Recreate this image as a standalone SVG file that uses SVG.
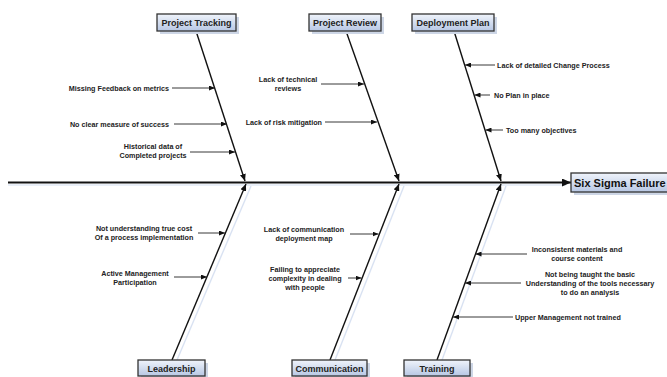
<svg xmlns="http://www.w3.org/2000/svg" width="667" height="377" viewBox="0 0 667 377">
<style>
.box{fill:url(#g);stroke:#333;stroke-width:1.3}
.sh{fill:#cdd6e6}
.bt{font-family:"Liberation Sans",Arial,sans-serif;font-weight:bold;font-size:9px;fill:#222;text-anchor:middle}
.ct{font-family:"Liberation Sans",Arial,sans-serif;font-weight:bold;font-size:7.2px;fill:#222}
.m{text-anchor:middle}.e{text-anchor:end}
.bone{stroke:#111;stroke-width:1.4;fill:none;marker-end:url(#ab)}
.cause{stroke:#222;stroke-width:0.9;fill:none;marker-end:url(#ac)}
.bsh{stroke:#d9e2f2;stroke-width:1.4;fill:none}
</style>
<defs>
<linearGradient id="g" x1="0" y1="0" x2="0" y2="1">
<stop offset="0" stop-color="#f0f4fb"/>
<stop offset="1" stop-color="#b7c7e4"/>
</linearGradient>
<marker id="ac" markerUnits="userSpaceOnUse" markerWidth="6" markerHeight="5" refX="6" refY="2.5" orient="auto">
<path d="M0,0 L6,2.5 L0,5 z" fill="#111"/>
</marker>
<marker id="ab" markerUnits="userSpaceOnUse" markerWidth="7" markerHeight="6" refX="7" refY="3" orient="auto">
<path d="M0,0 L7,3 L0,6 z" fill="#111"/>
</marker>
<marker id="as" markerUnits="userSpaceOnUse" markerWidth="9" markerHeight="8" refX="9" refY="4" orient="auto">
<path d="M0,0 L9,4 L0,8 z" fill="#111"/>
</marker>
</defs>
<rect width="667" height="377" fill="#fff"/>

<g id="connectors">
<line x1="8" y1="185" x2="566" y2="185" stroke="#e2eaf6" stroke-width="1.5"/>
<line x1="8" y1="182.5" x2="571" y2="182.5" stroke="#111" stroke-width="2" marker-end="url(#as)"/>
<line class="bsh" x1="177" y1="360" x2="251" y2="186"/>
<line class="bsh" x1="335" y1="360" x2="404" y2="186"/>
<line class="bsh" x1="442" y1="360" x2="506" y2="186"/>
<line class="bone" x1="196" y1="31" x2="245" y2="181"/>
<line class="bone" x1="346" y1="31" x2="399" y2="181"/>
<line class="bone" x1="454" y1="31" x2="501" y2="181"/>
<line class="bone" x1="172" y1="360" x2="246" y2="184"/>
<line class="bone" x1="330" y1="360" x2="399" y2="184"/>
<line class="bone" x1="437" y1="360" x2="501" y2="184"/>
<line class="cause" x1="172" y1="88" x2="215" y2="88"/>
<line class="cause" x1="174" y1="124" x2="227" y2="124"/>
<line class="cause" x1="190" y1="152" x2="235" y2="152"/>
<line class="cause" x1="321" y1="84" x2="364" y2="84"/>
<line class="cause" x1="325" y1="122" x2="377" y2="122"/>
<line class="cause" x1="495" y1="65" x2="465" y2="65"/>
<line class="cause" x1="490" y1="95" x2="474.5" y2="95"/>
<line class="cause" x1="503" y1="130" x2="485.5" y2="130"/>
<line class="cause" x1="198" y1="233" x2="225" y2="233"/>
<line class="cause" x1="174" y1="277" x2="207" y2="277"/>
<line class="cause" x1="350" y1="234" x2="378.5" y2="234"/>
<line class="cause" x1="348" y1="278" x2="361.5" y2="278"/>
<line class="cause" x1="527" y1="254" x2="475.5" y2="254"/>
<line class="cause" x1="521" y1="283" x2="465" y2="283"/>
<line class="cause" x1="513" y1="317" x2="453" y2="317"/>
</g>

<g id="effect">
<rect class="sh" x="574" y="176" width="100" height="19"/>
<rect class="box" x="571" y="173" width="100" height="19"/>
<text x="574" y="187" font-family="Liberation Sans,Arial,sans-serif" font-weight="bold" font-size="11px" fill="#111">Six Sigma Failure</text>
</g>

<g id="project-tracking">
<rect class="sh" x="160" y="17" width="79" height="17"/>
<rect class="box" x="157" y="14" width="79" height="17"/>
<text class="bt" x="196.5" y="26">Project Tracking</text>
<text class="ct e" x="169" y="90.5">Missing Feedback on metrics</text>
<text class="ct e" x="169" y="126.5">No clear measure of success</text>
<text class="ct m" x="153" y="148.5">Historical data of</text>
<text class="ct m" x="153" y="157.5">Completed projects</text>
</g>

<g id="project-review">
<rect class="sh" x="312" y="17" width="72" height="17"/>
<rect class="box" x="309" y="14" width="72" height="17"/>
<text class="bt" x="345" y="26">Project Review</text>
<text class="ct m" x="288" y="81.5">Lack of technical</text>
<text class="ct m" x="288" y="90.5">reviews</text>
<text class="ct e" x="322" y="124.5">Lack of risk mitigation</text>
</g>

<g id="deployment-plan">
<rect class="sh" x="415" y="17" width="82" height="17"/>
<rect class="box" x="412" y="14" width="82" height="17"/>
<text class="bt" x="453" y="26">Deployment Plan</text>
<text class="ct" x="497" y="67.5">Lack of detailed Change Process</text>
<text class="ct" x="494" y="97.5">No Plan in place</text>
<text class="ct" x="506" y="132.5">Too many objectives</text>
</g>

<g id="leadership">
<rect class="sh" x="141" y="363" width="67" height="16"/>
<rect class="box" x="138" y="360" width="67" height="16"/>
<text class="bt" x="171.5" y="371.5">Leadership</text>
<text class="ct m" x="144" y="230.5">Not understanding true cost</text>
<text class="ct m" x="144" y="239.5">Of a process implementation</text>
<text class="ct m" x="135" y="275.5">Active Management</text>
<text class="ct m" x="135" y="284.5">Participation</text>
</g>

<g id="communication">
<rect class="sh" x="295" y="363" width="75" height="16"/>
<rect class="box" x="292" y="360" width="75" height="16"/>
<text class="bt" x="329.5" y="371.5">Communication</text>
<text class="ct m" x="304" y="231.5">Lack of communication</text>
<text class="ct m" x="304" y="240.5">deployment map</text>
<text class="ct m" x="305" y="271.5">Failing to appreciate</text>
<text class="ct m" x="305" y="280.5">complexity in dealing</text>
<text class="ct m" x="305" y="289.5">with people</text>
</g>

<g id="training">
<rect class="sh" x="407" y="363" width="66" height="16"/>
<rect class="box" x="404" y="360" width="66" height="16"/>
<text class="bt" x="437" y="371.5">Training</text>
<text class="ct m" x="577" y="251.5">Inconsistent materials and</text>
<text class="ct m" x="577" y="260.5">course content</text>
<text class="ct m" x="590" y="276.5">Not being taught the basic</text>
<text class="ct m" x="590" y="285.5">Understanding of the tools necessary</text>
<text class="ct m" x="590" y="294.5">to do an analysis</text>
<text class="ct" x="515" y="319.5">Upper Management not trained</text>
</g>
</svg>
